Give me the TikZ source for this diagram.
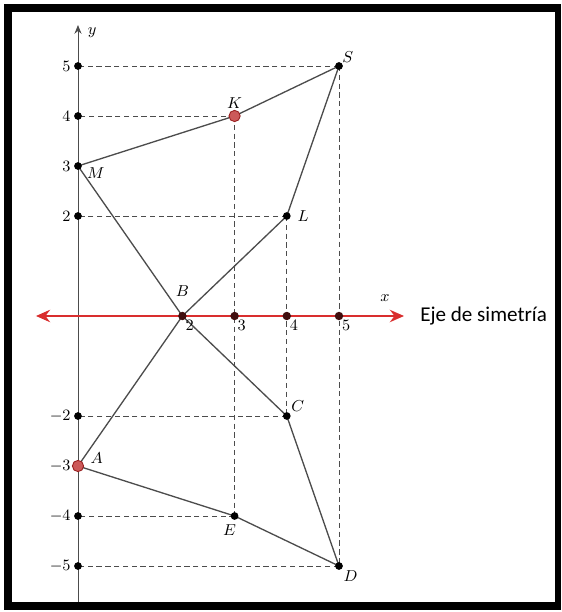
\documentclass[tikz,border=0pt]{standalone}
\usepackage{fontspec}
\newfontfamily\ejefont{Carlito}
\usepackage{tikz}
\usetikzlibrary{arrows.meta, positioning, calc}
\definecolor{AxisRed}{rgb}{0.85, 0.18, 0.18}
\definecolor{PointRed}{rgb}{0.80, 0.35, 0.35}
\definecolor{LineGray}{rgb}{0.30, 0.30, 0.30}

\begin{document}
\begin{tikzpicture}[>=Stealth, x=1.044cm, y=1cm, font=\small,
        dot/.style={fill=black},
        guide/.style={LineGray, densely dashed, line width=0.55pt},
        side/.style={LineGray, line width=0.75pt},
        lbl/.style={inner sep=1pt}]
        % Frame
        \useasboundingbox (-1.494,6.32) rectangle (9.253,-5.92);
        \fill[black] (-1.418,6.24) rectangle (9.253,-5.88);
        \fill[white] (-1.264,6.08) rectangle (9.138,-5.72);

        % Points
        \coordinate (S) at (5,5);
        \coordinate (K) at (3,4);
        \coordinate (M) at (0,3);
        \coordinate (L) at (4,2);
        \coordinate (B) at (2,0);
        \coordinate (C) at (4,-2);
        \coordinate (A) at (0,-3);
        \coordinate (E) at (3,-4);
        \coordinate (D) at (5,-5);

        % Guide lines
        \foreach \p in {S, K, L, C, E, D} {
            \draw[guide] (\p) -- (\p -| M);
        }
        \draw[guide] (K) -- (E);
        \draw[guide] (L) -- (C);
        \draw[guide] (S) -- (D);

        % y axis
        \draw[LineGray, line width=0.5pt, -{Stealth[length=5pt, width=4pt]}] (0,-5.72) -- (0,5.82);
        \node[lbl] at (0.27,5.66) {$y$};

        % Figure
        \draw[side] (M) -- (K) -- (S) -- (L) -- (B) -- (C) -- (D) -- (E) -- (A) -- (B) -- cycle;

        % x axis (eje de simetria)
        \draw[AxisRed, line width=1.6pt, {Stealth[length=8pt, width=7pt]}-{Stealth[length=8pt, width=7pt]}] (-0.805,0) -- (6.245,0);
        \node[lbl] at (5.88,0.36) {$x$};
        \node[anchor=west, inner sep=0pt, font=\ejefont\fontsize{12}{14}\selectfont] (eje) at (6.55,0) {Eje de simetría};

        % Ticks
        \foreach \y in {5, 4, 2, -2, -4, -5} {
            \fill[dot] (0,\y) circle (2.2pt);
        }
        \foreach \y in {5, 4, 3, 2} {
            \node[lbl, left=3pt] at (0,\y) {$\y$};
        }
        \foreach \y in {-2, -3, -4, -5} {
            \node[lbl, left=3pt] at (0,\y) {$\y$};
        }
        \foreach \x in {2, 3, 4, 5} {
            \fill[black!70!AxisRed] (\x,0) circle (2.4pt);
            \node[lbl, anchor=north west] at ($(\x,0)+(0.02,-0.05)$) {$\x$};
        }

        % Marked points
        \foreach \p in {S, M, L, C, E, D} {
            \fill[dot] (\p) circle (2.2pt);
        }
        \foreach \p in {K, A} {
            \filldraw[fill=PointRed, draw=AxisRed!70!black, line width=0.5pt] (\p) circle (3.2pt);
        }

        % Labels
        \node[lbl, above right=1pt] at (S) {$S$};
        \node[lbl, above=3pt] at (K) {$K$};
        \node[lbl, below right=0pt and 4pt] at (M) {$M$};
        \node[lbl, right=5pt] at (L) {$L$};
        \node[lbl, above=10pt] at (B) {$B$};
        \node[lbl, above right=2pt] at (C) {$C$};
        \node[lbl, above right=0pt and 6pt] at (A) {$A$};
        \node[lbl, below left=4pt and -2pt] at (E) {$E$};
        \node[lbl, below right=2pt] at (D) {$D$};
    \end{tikzpicture}
\end{document}
